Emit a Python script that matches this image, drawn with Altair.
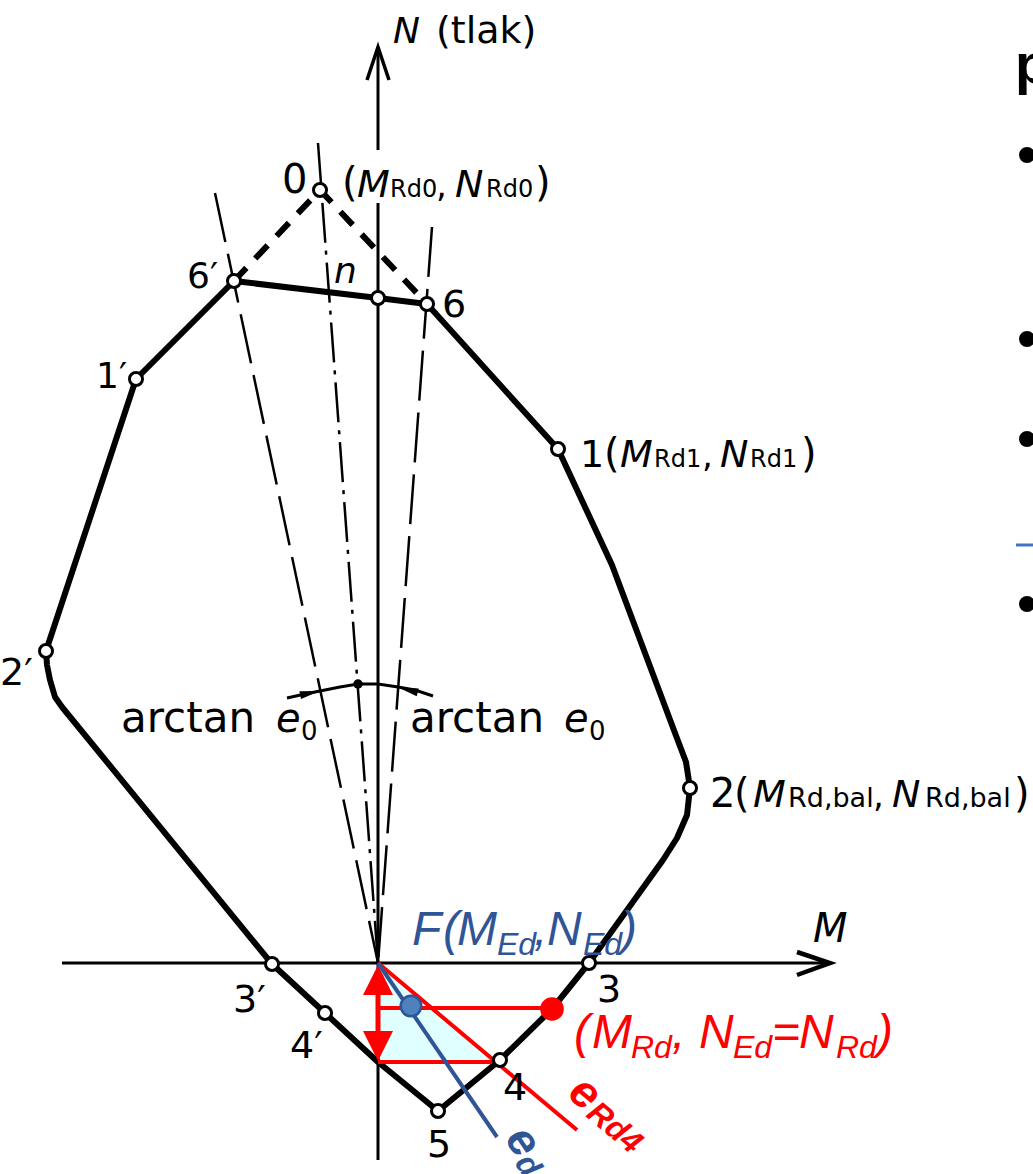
import altair as alt
import pandas as pd

W, H = 1033, 1174

# ---- interaction diagram geometry (drawing units = page pixels, y downward) ----
outline_x = [234, 378, 427, 558, 612, 675, 686, 690, 687, 677, 663, 589, 552, 500, 438,
             378, 325, 272, 62, 55, 50, 47, 46, 136, 234]
outline_y = [281, 298, 304, 449, 565, 733, 762, 788, 815, 838, 860, 963, 1009, 1060, 1111,
             1062, 1013, 964, 707, 697, 680, 665, 651, 379, 281]

cap_x = [234, 320, 427]          # 6' - 0 - 6
cap_y = [281, 190, 304]

node_x = [320, 234, 378, 427, 136, 558, 46, 690, 272, 589, 325, 500, 438]
node_y = [190, 281, 298, 304, 379, 449, 651, 788, 964, 963, 1013, 1060, 1111]

# rays through F
ray_x1 = [215, 432]
ray_y1 = [193, 227]
ray_x2 = [378, 378]
ray_y2 = [963, 963]
axis_ray_x1, axis_ray_y1 = [318], [143]

# angle arc
arc_x = [287, 305, 320, 340, 358, 378, 398, 415, 433]
arc_y = [698, 694, 691, 687, 684, 684, 687, 690, 696]
arc_head_x = [310, 408]
arc_head_y = [693, 690]
arc_head_angle = [348, 194]

# axes
axes_x1 = [378, 378, 62]
axes_y1 = [47, 203, 963]
axes_x2 = [378, 378, 830]
axes_y2 = [150, 1160, 963]
n_arrow_x = [367, 378, 389]
n_arrow_y = [80, 47, 80]
m_arrow_x = [797, 830, 797]
m_arrow_y = [952, 963, 975]

# design point F and resistance point
F_x, F_y = 411, 1006
R_x, R_y = 552, 1009

# shaded region and red construction
shade_x = [378, 495]
shade_y = [963, 1062]
shade_y2 = [1062, 1062]
red_x1 = [378, 378, 378]
red_y1 = [1008, 1062, 963]
red_x2 = [552, 492, 577]
red_y2 = [1008, 1062, 1130]
ed_x1, ed_y1, ed_x2, ed_y2 = [378], [963], [497], [1137]

# side-panel markers
bullet_x = [1027, 1027, 1027, 1027]
bullet_y = [155, 339, 439, 604]

# labels: text, x (left), y (baseline), font size, style kind, angle
label_text = ["N", "(tlak)", "0", "(", "M", "Rd0", ",", "N", "Rd0", ")",
              "6′", "n", "6", "1′",
              "1", "(", "M", "Rd1", ",", "N", "Rd1", ")",
              "2′", "arctan", "e", "0", "arctan", "e", "0",
              "2", "(", "M", "Rd,bal", ",", "N", "Rd,bal", ")",
              "M", "3′", "4′", "3", "4", "5",
              "F", "(", "M", "Ed", ",", "N", "Ed", ")",
              "(", "M", "Rd", ",", "N", "Ed", "=", "N", "Rd", ")",
              "e", "Rd4", "e", "d", "p"]
label_x = [393, 436, 282, 342, 357, 390, 436, 455, 486, 535,
           187, 334, 442, 96,
           580, 604, 620, 654, 702, 720, 750, 801,
           0, 121, 276, 301, 410, 564, 589,
           710, 734, 753, 788, 873, 892, 925, 1014,
           813, 233, 290, 597, 503, 427,
           412, 443, 457, 497, 534, 547, 583, 621,
           574, 592, 631, 672, 699, 733, 772, 799, 836, 877,
           566, 585, 504, 514, 1015]
label_y = [43, 43, 193, 196, 197, 197, 197, 197, 197, 196,
           288, 283, 317, 388,
           467, 467, 467, 467, 467, 467, 467, 467,
           685, 732, 732, 740, 732, 732, 740,
           807, 807, 807, 807, 807, 807, 807, 807,
           942, 1012, 1058, 1002, 1100, 1157,
           945, 945, 945, 955, 945, 945, 955, 945,
           1048, 1048, 1058, 1048, 1048, 1058, 1048, 1048, 1058, 1048,
           1096, 1116, 1139, 1163, 83]
label_size = [36, 38, 40, 40, 38, 24, 34, 38, 24, 40,
              36, 36, 38, 36,
              38, 40, 38, 24, 34, 38, 24, 40,
              38, 42, 40, 26, 42, 40, 26,
              40, 40, 38, 27, 34, 38, 27, 40,
              40, 38, 38, 38, 38, 38,
              48, 48, 48, 32, 48, 48, 32, 48,
              48, 48, 32, 48, 48, 32, 48, 48, 32, 48,
              46, 32, 46, 32, 56]
label_kind = (["ital", "plain", "plain", "plain", "ital", "plain", "plain", "ital", "plain", "plain",
               "plain", "ital", "plain", "plain",
               "plain", "plain", "ital", "plain", "plain", "ital", "plain", "plain",
               "plain", "plain", "ital", "plain", "plain", "ital", "plain",
               "plain", "plain", "ital", "plain", "plain", "ital", "plain", "plain",
               "ital", "plain", "plain", "plain", "plain", "plain"]
              + ["blue"] * 8 + ["red"] * 10 + ["redb", "redb", "blueb", "blueb", "bold"])
label_angle = [0] * 61 + [40, 40, 56, 56, 0]

BLUE = "#2F5597"
RED = "#FF0000"

xs = alt.Scale(domain=[0, W], nice=False, zero=False)
ys = alt.Scale(domain=[0, H], reverse=True, nice=False, zero=False)


def X(f="x"):
    return alt.X(f"{f}:Q", scale=xs, axis=None)


def Y(f="y"):
    return alt.Y(f"{f}:Q", scale=ys, axis=None)


def polyline(px, py, **mark):
    df = pd.DataFrame({"x": px, "y": py, "i": list(range(len(px)))})
    return alt.Chart(df).mark_line(**mark).encode(x=X(), y=Y(), order="i:Q")


def segments(x1, y1, x2, y2, **mark):
    df = pd.DataFrame({"x": x1, "y": y1, "x2": x2, "y2": y2})
    return alt.Chart(df).mark_rule(**mark).encode(x=X(), y=Y(), x2="x2:Q", y2="y2:Q")


def points(px, py, **mark):
    df = pd.DataFrame({"x": px, "y": py})
    return alt.Chart(df).mark_point(**mark).encode(x=X(), y=Y())


layers = []

# light shading of the admissible region below F
shade = pd.DataFrame({"x": shade_x, "y": shade_y, "y2": shade_y2})
layers.append(alt.Chart(shade).mark_area(color="#E0FFFF", opacity=1).encode(
    x=X(), y=Y(), y2="y2:Q"))

# construction rays
layers.append(segments(ray_x1, ray_y1, ray_x2, ray_y2, color="black", strokeWidth=2.5,
                       strokeDash=[50, 12]))
layers.append(segments(axis_ray_x1, axis_ray_y1, [378], [963], color="black", strokeWidth=2.5,
                       strokeDash=[40, 8, 4, 8]))

# axes with arrows
layers.append(segments(axes_x1, axes_y1, axes_x2, axes_y2, color="black", strokeWidth=3))
layers.append(polyline(n_arrow_x, n_arrow_y, color="black", strokeWidth=3.5))
layers.append(polyline(m_arrow_x, m_arrow_y, color="black", strokeWidth=4.5))

# interaction diagram outline
layers.append(polyline(outline_x, outline_y, color="black", strokeWidth=6,
                       strokeJoin="round", strokeCap="round"))
layers.append(polyline(cap_x, cap_y, color="black", strokeWidth=6, strokeDash=[18, 13]))

# angle arc
layers.append(polyline(arc_x, arc_y, color="black", strokeWidth=3))
heads = pd.DataFrame({"x": arc_head_x, "y": arc_head_y, "a": arc_head_angle})
layers.append(alt.Chart(heads).mark_point(
    shape="M1,0L-1,-0.4L-1,0.4Z", filled=True, color="black", size=400, opacity=1
).encode(x=X(), y=Y(), angle=alt.Angle("a:Q", scale=None)))
layers.append(points([358], [684], shape="circle", filled=True, color="black", size=90, opacity=1))

# red construction: horizontals, eccentricity line, double arrow
layers.append(segments(red_x1, red_y1, red_x2, red_y2, color=RED, strokeWidth=4))
layers.append(segments([378], [990], [378], [1040], color=RED, strokeWidth=5))
layers.append(points([378], [980], shape="M0,-1L1,1L-1,1Z", filled=True, color=RED,
                     size=900, opacity=1))
layers.append(points([378], [1046], shape="M0,1L1,-1L-1,-1Z", filled=True, color=RED,
                     size=900, opacity=1))
layers.append(segments(ed_x1, ed_y1, ed_x2, ed_y2, color=BLUE, strokeWidth=4))

# nodes of the diagram
layers.append(points(node_x, node_y, shape="circle", filled=True, fill="white", stroke="black",
                     strokeWidth=3, size=170, opacity=1))
layers.append(points([R_x], [R_y], shape="circle", filled=True, color=RED, size=560, opacity=1))
layers.append(points([F_x], [F_y], shape="circle", filled=True, fill="#4F81BD", stroke=BLUE,
                     strokeWidth=2.5, size=420, opacity=1))

# side panel
layers.append(points(bullet_x, bullet_y, shape="circle", filled=True, color="black",
                     size=256, opacity=1))
layers.append(segments([1016], [545], [1033], [545], color="#4472C4", strokeWidth=3))

labels = pd.DataFrame({"t": label_text, "x": label_x, "y": label_y, "s": label_size,
                       "k": label_kind, "a": label_angle})

styles = {
    "plain": dict(font="DejaVu Sans", fontStyle="normal", fontWeight="normal", color="black"),
    "ital": dict(font="DejaVu Sans", fontStyle="italic", fontWeight="normal", color="black"),
    "blue": dict(font="Liberation Sans", fontStyle="italic", fontWeight="normal", color=BLUE),
    "red": dict(font="Liberation Sans", fontStyle="italic", fontWeight="normal", color=RED),
    "redb": dict(font="Liberation Sans", fontStyle="italic", fontWeight="bold", color=RED),
    "blueb": dict(font="Liberation Sans", fontStyle="italic", fontWeight="bold", color=BLUE),
    "bold": dict(font="Liberation Sans", fontStyle="normal", fontWeight="bold", color="black"),
}

for kind, st in styles.items():
    layers.append(alt.Chart(labels[labels.k == kind]).mark_text(
        align="left", baseline="alphabetic", **st
    ).encode(
        x=X(), y=Y(), text="t:N",
        size=alt.Size("s:Q", scale=None),
        angle=alt.Angle("a:Q", scale=None),
    ))

chart = alt.layer(*layers).properties(
    width=W, height=H, padding=0, autosize="none", background="white"
).configure_view(stroke=None)

chart.save("out.html", embed_options={"renderer": "svg", "actions": False})
